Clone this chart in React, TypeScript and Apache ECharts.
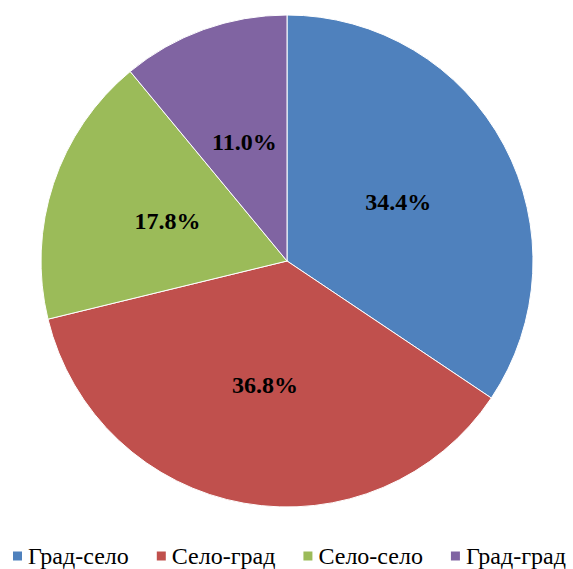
import React, { useEffect, useRef } from "react";
import * as echarts from "echarts";

const categories = ["Град-село", "Село-град", "Село-село", "Град-град"];
const values = [34.4, 36.8, 17.8, 11.0];
const colors = ["#4F81BD", "#C0504D", "#9BBB59", "#8064A2"];

export default function App() {
  const ref = useRef<HTMLDivElement>(null);
  useEffect(() => {
    document.body.style.margin = "0";
    const chart = echarts.init(ref.current!, null, { renderer: "svg" });
    chart.setOption({
      animation: false,
      color: colors,
      legend: {
        top: 544,
        left: 11,
        right: 0,
        padding: 0,
        itemWidth: 11,
        itemHeight: 11,
        itemGap: 26,
        icon: "rect",
        textStyle: { fontFamily: "Liberation Serif", fontSize: 24, color: "#000" },
        data: categories,
      },
      series: [
        {
          type: "pie",
          center: [287, 261],
          radius: [0, 246],
          startAngle: 90,
          clockwise: true,
          data: categories.map((c, i) => ({ name: c, value: values[i] })),
          label: {
            position: "inside",
            formatter: (p: any) => p.value.toFixed(1) + "%",
            fontFamily: "Liberation Serif",
            fontWeight: "bold",
            fontSize: 24,
            color: "#000",
          },
          labelLine: { show: false },
          itemStyle: { borderColor: "#fff", borderWidth: 1 },
          emphasis: { disabled: true },
        },
      ],
    });
    return () => chart.dispose();
  }, []);
  return <div ref={ref} style={{ width: 573, height: 569 }} />;
}
